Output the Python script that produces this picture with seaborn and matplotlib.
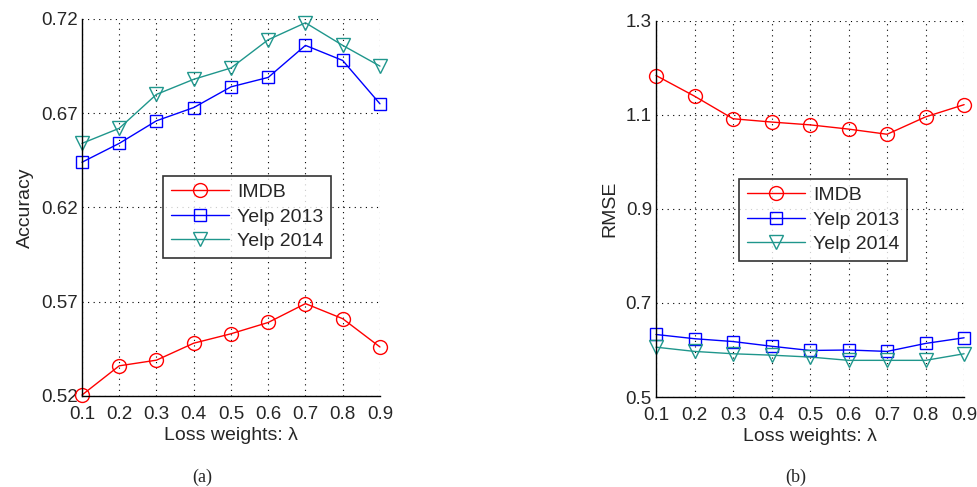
import pandas as pd
import matplotlib
matplotlib.use("Agg")
import matplotlib.pyplot as plt
import seaborn as sns

# Data
lam = [0.1, 0.2, 0.3, 0.4, 0.5, 0.6, 0.7, 0.8, 0.9]
acc_imdb = [0.5205, 0.536, 0.539, 0.548, 0.553, 0.559, 0.569, 0.561, 0.546]
acc_yelp13 = [0.644, 0.654, 0.666, 0.673, 0.684, 0.689, 0.706, 0.698, 0.675]
acc_yelp14 = [0.654, 0.662, 0.680, 0.688, 0.694, 0.709, 0.718, 0.706, 0.695]
rmse_imdb = [1.184, 1.140, 1.092, 1.085, 1.079, 1.070, 1.059, 1.096, 1.122]
rmse_yelp13 = [0.633, 0.624, 0.618, 0.608, 0.599, 0.600, 0.597, 0.614, 0.626]
rmse_yelp14 = [0.606, 0.597, 0.592, 0.589, 0.585, 0.578, 0.578, 0.578, 0.592]
series_names = ["IMDB", "Yelp 2013", "Yelp 2014"]
acc_yticks = [0.52, 0.57, 0.62, 0.67, 0.72]
rmse_yticks = [0.5, 0.7, 0.9, 1.1, 1.3]

sns.set_style("white")
plt.rcParams["font.family"] = ["Liberation Sans", "DejaVu Sans"]

colors = ["#ff0000", "#0000ff", "#1f968c"]
markers = ["o", "s", "v"]
msizes = [10, 8.5, 10]

fig = plt.figure(figsize=(9.78, 4.87), dpi=100)
ax1 = fig.add_axes([0.0838, 0.1869, 0.3047, 0.7741])
ax2 = fig.add_axes([0.6708, 0.1848, 0.3150, 0.7721])


def draw(ax, ys, yticks, ylabel, ylim, legend_anchor):
    for name, y, c, m, ms in zip(series_names, ys, colors, markers, msizes):
        df = pd.DataFrame({"lam": lam, "val": y})
        sns.lineplot(data=df, x="lam", y="val", ax=ax, color=c, marker=m,
                     markersize=ms, markerfacecolor="none", markeredgecolor=c,
                     markeredgewidth=1.0, linewidth=1.0, label=name, clip_on=False)
    ax.set_xlim(0.1, 0.9)
    ax.set_ylim(*ylim)
    ax.set_xticks(lam)
    ax.set_xticklabels([f"{v:.1f}" for v in lam])
    ax.set_yticks(yticks)
    ax.set_yticklabels([f"{v:g}" for v in yticks])
    ax.grid(True, color="black", linestyle=(0, (1, 4)), linewidth=0.8)
    for s in ["top", "right"]:
        ax.spines[s].set_visible(False)
    for s in ["left", "bottom"]:
        ax.spines[s].set_color("black")
        ax.spines[s].set_linewidth(1.0)
    ax.tick_params(axis="both", direction="in", length=4, labelsize=13.5,
                   color="black")
    ax.tick_params(axis="x", pad=7)
    ax.tick_params(axis="y", pad=3)
    ax.set_xlabel("Loss weights: λ", fontsize=14, labelpad=3)
    ax.set_ylabel(ylabel, fontsize=14, labelpad=5)
    leg = ax.legend(loc="upper left", bbox_to_anchor=legend_anchor, fontsize=14,
                    frameon=True, fancybox=False, edgecolor="black",
                    handlelength=3.0, borderpad=0.4, labelspacing=0.35,
                    handletextpad=0.4, borderaxespad=0)
    leg.get_frame().set_linewidth(1.2)


draw(ax1, [acc_imdb, acc_yelp13, acc_yelp14], acc_yticks, "Accuracy",
     (0.52, 0.72), (0.272, 0.584))
draw(ax2, [rmse_imdb, rmse_yelp13, rmse_yelp14], rmse_yticks, "RMSE",
     (0.5, 1.3), (0.269, 0.580))

# subfigure captions
for cx, cap in [(202 / 978, "(a)"), (796 / 978, "(b)")]:
    fig.text(cx, 1 - 477 / 487, cap, ha="center", va="center", fontsize=13,
             family=["Liberation Serif", "DejaVu Serif"])

fig.savefig("out.png", dpi=100)
